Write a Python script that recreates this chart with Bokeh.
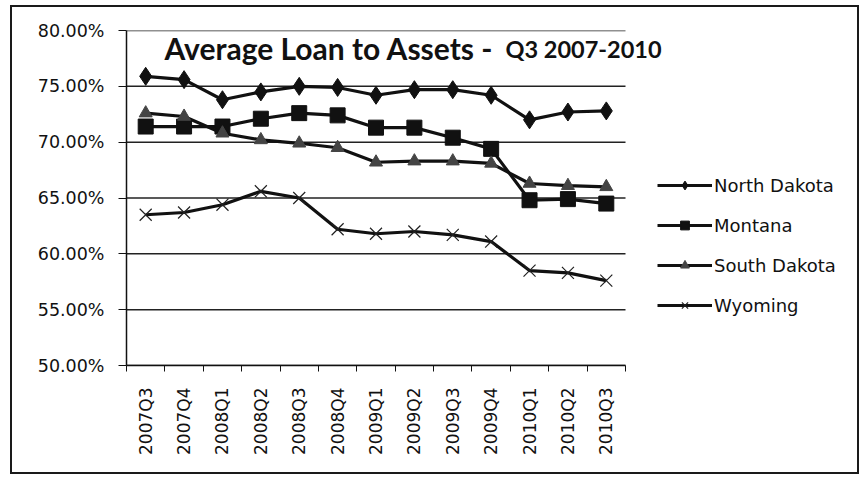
import numpy as np
from bokeh.plotting import figure
from bokeh.models import (FixedTicker, Legend, LegendItem, Label,
                          CustomJSTickFormatter, Range1d)
from bokeh.embed import file_html
from bokeh.resources import INLINE

quarters = ["2007Q3", "2007Q4", "2008Q1", "2008Q2", "2008Q3", "2008Q4", "2009Q1",
            "2009Q2", "2009Q3", "2009Q4", "2010Q1", "2010Q2", "2010Q3"]
north_dakota = [75.9, 75.6, 73.8, 74.5, 75.0, 74.9, 74.2, 74.7, 74.7, 74.2, 72.0, 72.7, 72.8]
montana = [71.4, 71.4, 71.4, 72.1, 72.6, 72.4, 71.3, 71.3, 70.4, 69.4, 64.8, 64.9, 64.5]
south_dakota = [72.6, 72.3, 70.8, 70.2, 69.9, 69.5, 68.2, 68.3, 68.3, 68.1, 66.3, 66.1, 66.0]
wyoming = [63.5, 63.7, 64.4, 65.6, 65.0, 62.2, 61.8, 62.0, 61.7, 61.1, 58.5, 58.3, 57.6]
y_ticks = [50, 55, 60, 65, 70, 75, 80]
title_main = "Average Loan to Assets -"
title_sub = "Q3 2007-2010"

n = len(quarters)
x = list(range(n))

# layout (figure pixels)
W, H = 849, 469
frame_left, frame_top = 114, 23
data_right = 613          # where the category axis ends
frame_right = 847
frame_bottom = 358
x_end = -0.5 + n * (frame_right - frame_left) / (data_right - frame_left)

p = figure(width=W, height=H, output_backend="svg", toolbar_location=None,
           x_range=Range1d(-0.5, x_end), y_range=Range1d(y_ticks[0], y_ticks[-1]))
p.min_border_left = frame_left
p.min_border_right = W - frame_right
p.min_border_top = frame_top
p.min_border_bottom = H - frame_bottom
p.styles = {"margin-left": "10px", "margin-top": "5px", "border": "2px solid #1a1a1a"}
p.outline_line_color = None
p.background_fill_color = "white"
p.border_fill_color = "white"

# x axis: labels at category centres, ticks at category boundaries
p.xaxis.bounds = (-0.5, n - 0.5)
p.xaxis.ticker = FixedTicker(ticks=x, minor_ticks=[i - 0.5 for i in range(n + 1)])
p.xaxis.major_label_overrides = {i: q for i, q in enumerate(quarters)}
p.xaxis.major_label_orientation = np.pi / 2
p.xaxis.major_tick_line_color = None
p.xaxis.minor_tick_line_color = "#111"
p.xaxis.minor_tick_out = 6
p.xaxis.minor_tick_in = 0
p.xaxis.axis_line_color = "#111"
p.xaxis.axis_line_width = 1.5
p.xaxis.major_label_text_font = "DejaVu Sans"
p.xaxis.major_label_text_font_size = "17px"
p.xaxis.major_label_text_color = "#111"
p.xaxis.major_label_standoff = 16

p.yaxis.ticker = FixedTicker(ticks=y_ticks)
p.yaxis.formatter = CustomJSTickFormatter(code="return tick.toFixed(2) + '%';")
p.yaxis.major_label_text_font = "DejaVu Sans"
p.yaxis.major_label_text_font_size = "17.5px"
p.yaxis.major_label_text_color = "#111"
p.yaxis.major_tick_out = 8
p.yaxis.major_tick_in = 0
p.yaxis.minor_tick_line_color = None
p.yaxis.axis_line_color = "#111"
p.yaxis.axis_line_width = 1.5
p.yaxis.major_tick_line_color = "#111"
p.yaxis.major_label_standoff = 14

p.xgrid.grid_line_color = None
p.ygrid.grid_line_color = None
# horizontal gridlines limited to the category span
p.segment(x0=[-0.5] * len(y_ticks), x1=[n - 0.5] * len(y_ticks), y0=y_ticks, y1=y_ticks,
          line_color="#222", line_width=1.5)

series = [
    ("North Dakota", north_dakota, "diamond", 18, "#111"),
    ("Montana", montana, "square", 15, "#111"),
    ("South Dakota", south_dakota, "triangle", 13, "#444"),
    ("Wyoming", wyoming, "x", 17, "#222"),
]
items = []
for name, vals, marker, size, col in series:
    r_line = p.line(x, vals, line_color="#111", line_width=3.2)
    if marker == "x":
        r_mark = p.scatter(x, vals, marker="x", size=size, line_color=col, line_width=1.2)
    else:
        r_mark = p.scatter(x, vals, marker=marker, size=size, fill_color=col, line_color=col)
    items.append(LegendItem(label=name, renderers=[r_line, r_mark]))

legend = Legend(items=items, location=(531, 49), orientation="vertical")
legend.glyph_width = 55
legend.glyph_height = 22
legend.spacing = 18
legend.label_standoff = 2
legend.padding = 0
legend.margin = 0
legend.border_line_color = None
legend.background_fill_alpha = 0
legend.label_text_font = "DejaVu Sans"
legend.label_text_font_size = "18px"
legend.label_text_color = "#111"
p.add_layout(legend, "center")

t1 = Label(x=38, y=318, x_units="screen", y_units="screen", text=title_main,
           text_font="Lato", text_font_style="bold", text_font_size="30px",
           text_baseline="middle", text_color="#111")
p.add_layout(t1)
t2 = Label(x=379, y=317, x_units="screen", y_units="screen", text=title_sub,
           text_font="Lato", text_font_style="bold", text_font_size="23.5px",
           text_baseline="middle", text_color="#111")
p.add_layout(t2)

open("out.html", "w").write(file_html(p, INLINE))
